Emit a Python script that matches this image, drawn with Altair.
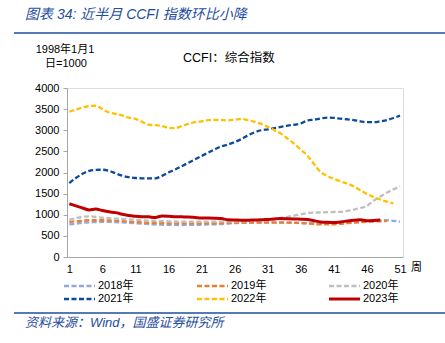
import altair as alt
import pandas as pd

weeks_tick = [1, 6, 11, 16, 21, 26, 31, 36, 41, 46, 51]
y_ticks = [0, 500, 1000, 1500, 2000, 2500, 3000, 3500, 4000]

years = ["2018年", "2019年", "2020年", "2021年", "2022年", "2023年"]
colors = ["#8FAADC", "#ED7D31", "#BFBFBF", "#0B4A9E", "#FFC000", "#C00000"]

v2018 = [770, 790, 810, 820, 825, 830, 830, 825, 820, 810, 800, 790, 780, 770, 765, 760, 758, 757,
         760, 760, 765, 770, 775, 780, 790, 800, 810, 815, 820, 820, 820, 820, 820, 815, 810, 805,
         800, 795, 790, 790, 795, 800, 810, 820, 830, 845, 860, 870, 870, 855, 835]
v2019 = [830, 845, 860, 870, 870, 870, 865, 860, 850, 840, 830, 820, 810, 805, 800, 798, 795, 795,
         795, 795, 795, 795, 798, 800, 805, 810, 812, 815, 815, 815, 815, 815, 815, 812, 810, 805,
         795, 780, 770, 770, 775, 785, 800, 815, 825, 835, 840, 845, 850]
v2020 = [880, 920, 950, 960, 950, 930, 920, 910, 900, 890, 880, 870, 860, 855, 850, 845, 840, 835,
         835, 835, 835, 835, 835, 835, 835, 840, 845, 850, 860, 870, 880, 900, 920, 950, 980, 1010,
         1040, 1050, 1055, 1060, 1065, 1070, 1090, 1120, 1160, 1210, 1330, 1430, 1520, 1600, 1670]
v2021 = [1750, 1870, 1970, 2040, 2060, 2065, 2040, 1980, 1925, 1890, 1870, 1862, 1860, 1862, 1920,
         2000, 2070, 2150, 2230, 2310, 2390, 2470, 2550, 2620, 2660, 2720, 2790, 2880, 2950, 3000,
         3020, 3050, 3080, 3110, 3130, 3160, 3230, 3250, 3280, 3300, 3295, 3275, 3260, 3240, 3210,
         3190, 3190, 3210, 3240, 3290, 3345]
v2022 = [3440, 3490, 3540, 3570, 3580, 3500, 3420, 3390, 3350, 3300, 3270, 3200, 3130, 3120, 3100,
         3060, 3050, 3100, 3150, 3190, 3210, 3240, 3245, 3240, 3235, 3250, 3266, 3240, 3200, 3150,
         3080, 3000, 2920, 2800, 2680, 2540, 2400, 2200, 2010, 1920, 1850, 1790, 1740, 1670, 1580,
         1490, 1420, 1360, 1310, 1270]
v2023 = [1260, 1210, 1160, 1115, 1135, 1100, 1070, 1050, 1010, 980, 965, 955, 950, 935, 970, 965,
         955, 950, 945, 935, 925, 925, 920, 910, 880, 875, 870, 870, 875, 880, 890, 900, 910, 905,
         900, 895, 890, 860, 830, 820, 815, 830, 850, 870, 880, 860, 865, 875]

series = [v2018, v2019, v2020, v2021, v2022, v2023]
rows = []
for yr, vals in zip(years, series):
    for i, v in enumerate(vals):
        rows.append({"week": i + 1, "value": v, "year": yr})
df = pd.DataFrame(rows)

BLUE = "#1F4E9E"
CJK = "Liberation Sans, Noto Sans CJK SC"

color_scale = alt.Scale(domain=years, range=colors)
xs = alt.Scale(domain=[0.65, 51.45], nice=False, zero=False)
ys = alt.Scale(domain=[0, 4000], nice=False)

x_axis = alt.Axis(values=weeks_tick, title=None, grid=False, ticks=False, format="d",
                  labelOverlap=False, labelPadding=6, domainColor="#A6A6A6",
                  labelFontSize=11, labelColor="#000000", labelFont="Liberation Sans")
y_axis = alt.Axis(values=y_ticks, title=None, grid=False, tickSize=4, format="d",
                  labelOverlap=False, tickColor="#A6A6A6", domainColor="#A6A6A6",
                  labelFontSize=11, labelColor="#000000", labelPadding=4,
                  labelFont="Liberation Sans")

dashed = alt.Chart(df[df.year != "2023年"]).mark_line(
    interpolate="monotone", strokeWidth=2.3, strokeDash=[5, 2.5]
).encode(x=alt.X("week:Q", scale=xs, axis=x_axis),
         y=alt.Y("value:Q", scale=ys, axis=y_axis),
         color=alt.Color("year:N", scale=color_scale, legend=None),
         detail="year:N")

solid = alt.Chart(df[df.year == "2023年"]).mark_line(
    interpolate="monotone", strokeWidth=3
).encode(x=alt.X("week:Q", scale=xs, axis=x_axis),
         y=alt.Y("value:Q", scale=ys, axis=y_axis),
         color=alt.Color("year:N", scale=color_scale, legend=None))

layers = [dashed, solid]


def text_layer(txt, x, y, size=11, color="#000000", align="left", italic=False, font=CJK):
    kw = dict(fontSize=size, color=color, align=align, baseline="middle", font=font)
    if italic:
        kw["fontStyle"] = "italic"
    return alt.Chart(pd.DataFrame({"t": [txt]})).mark_text(**kw).encode(
        text="t:N", x=alt.value(x), y=alt.value(y))


def rule_layer(x1, x2, y, color, width, dash=None):
    kw = dict(color=color, strokeWidth=width)
    if dash:
        kw["strokeDash"] = dash
    return alt.Chart(pd.DataFrame({"a": [0]})).mark_rule(**kw).encode(
        x=alt.value(x1), x2=alt.value(x2), y=alt.value(y))


OX, OY = 67, 88  # plot origin in page coordinates

# header / footer
layers.append(text_layer("图表 34:  近半月 CCFI 指数环比小降", 25 - OX, 15 - OY, size=14,
                         color=BLUE, italic=True))
layers.append(rule_layer(14 - OX, 445 - OX, 33 - OY, BLUE, 1.6))
layers.append(text_layer("1998年1月1", 65 - OX, 50 - OY, size=11, align="center"))
layers.append(text_layer("日=1000", 66 - OX, 64 - OY, size=11, align="center"))
layers.append(text_layer("CCFI：综合指数", 183 - OX, 58 - OY, size=12.5))
layers.append(text_layer("周", 411 - OX, 268 - OY, size=11))
layers.append(rule_layer(14 - OX, 445 - OX, 313 - OY, BLUE, 1.6))
layers.append(text_layer("资料来源：Wind，国盛证券研究所", 25 - OX, 323 - OY, size=13,
                         color=BLUE, italic=True))

# manual legend
col_x = [64, 197, 329]
row_y = [286, 299]
for k, (yr, c) in enumerate(zip(years, colors)):
    cx = col_x[k % 3] - OX
    ry = row_y[k // 3] - OY
    if yr == "2023年":
        layers.append(rule_layer(cx, cx + 31, ry, c, 3))
    else:
        layers.append(rule_layer(cx, cx + 31, ry, c, 2.3, dash=[5, 2.5]))
    layers.append(text_layer(yr, cx + 34, ry, size=11))

chart = alt.layer(*layers).properties(
    width=336, height=169,
    autosize=alt.AutoSizeParams(type="none"),
    padding={"left": OX, "top": OY, "right": 445 - OX - 336, "bottom": 343 - OY - 169},
).configure_view(stroke=None).configure(background="white")

chart.save("out.html", embed_options={"renderer": "svg", "actions": False})
